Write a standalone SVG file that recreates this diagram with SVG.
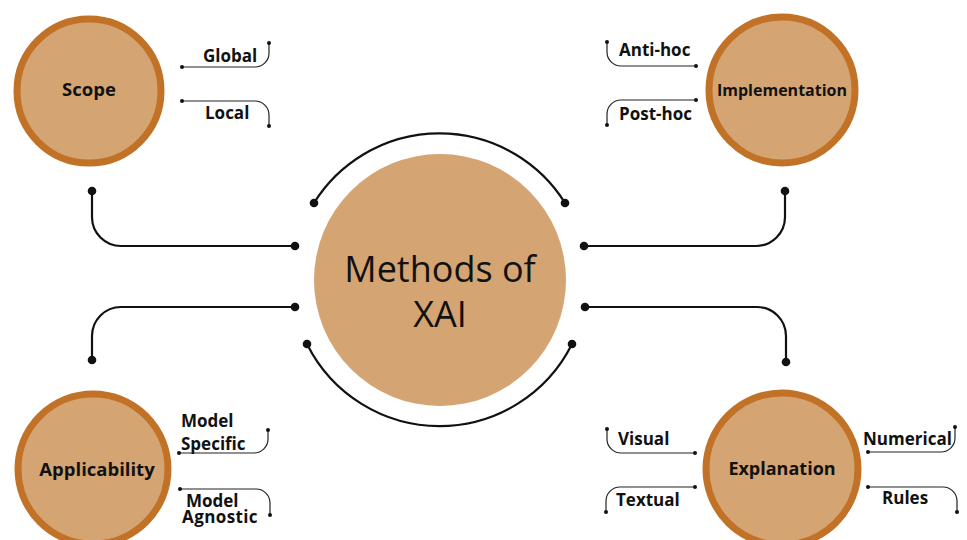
<svg xmlns="http://www.w3.org/2000/svg" width="967" height="540" viewBox="0 0 967 540">
  <style>
    .node { fill: #d4a572; stroke: #c27226; stroke-width: 7; }
    .core { fill: #d4a572; }
    .wire { fill: none; stroke: #111; stroke-width: 2.2; stroke-linecap: round; }
    .twig { fill: none; stroke: #222; stroke-width: 1.2; }
    .dot { fill: #111; }
    .sdot { fill: #111; }
    .title { font-family: "Open Sans", "Liberation Sans", sans-serif; font-weight: 700; fill: #111; text-anchor: middle; }
    .lbl { font-family: "Open Sans", "Liberation Sans", sans-serif; font-weight: 700; font-size: 17px; fill: #111; }
  </style>

  <!-- connectors -->
  <g id="connectors">
    <!-- arcs around the central circle -->
    <path class="wire" d="M314,203 A148,148 0 0 1 565,203"/>
    <path class="wire" d="M307,344 A148,148 0 0 0 572,344"/>
    <circle class="dot" cx="314" cy="203" r="4.3"/>
    <circle class="dot" cx="565" cy="203" r="4.3"/>
    <circle class="dot" cx="307" cy="344" r="4.3"/>
    <circle class="dot" cx="572" cy="344" r="4.3"/>

    <!-- elbows to the four outer nodes -->
    <path class="wire" d="M92,191 V217 A29,29 0 0 0 121,246 H295"/>
    <circle class="dot" cx="92" cy="191" r="4.3"/>
    <circle class="dot" cx="295" cy="246" r="4.3"/>

    <path class="wire" d="M785,191 V217 A29,29 0 0 1 756,246 H584"/>
    <circle class="dot" cx="785" cy="191" r="4.3"/>
    <circle class="dot" cx="584" cy="246" r="4.3"/>

    <path class="wire" d="M92,360 V336 A29,29 0 0 1 121,307 H295"/>
    <circle class="dot" cx="92" cy="360" r="4.3"/>
    <circle class="dot" cx="295" cy="307" r="4.3"/>

    <path class="wire" d="M786,362 V336 A29,29 0 0 0 757,307 H585"/>
    <circle class="dot" cx="786" cy="362" r="4.3"/>
    <circle class="dot" cx="585" cy="307" r="4.3"/>

    <!-- label leaders: Scope -->
    <path class="twig" d="M182,67 H255 A14,14 0 0 0 269,53 V43"/>
    <circle class="sdot" cx="182" cy="67" r="2"/>
    <circle class="sdot" cx="269" cy="43" r="2"/>
    <path class="twig" d="M182,101 H255 A14,14 0 0 1 269,115 V126"/>
    <circle class="sdot" cx="182" cy="101" r="2"/>
    <circle class="sdot" cx="269" cy="126" r="2"/>

    <!-- label leaders: Implementation -->
    <path class="twig" d="M607,42 V52 A14,14 0 0 0 621,66 H696"/>
    <circle class="sdot" cx="607" cy="42" r="2"/>
    <circle class="sdot" cx="696" cy="66" r="2"/>
    <path class="twig" d="M696,100 H621 A14,14 0 0 0 607,114 V125"/>
    <circle class="sdot" cx="696" cy="100" r="2"/>
    <circle class="sdot" cx="607" cy="125" r="2"/>

    <!-- label leaders: Applicability -->
    <path class="twig" d="M179,453 H254 A14,14 0 0 0 268,439 V430"/>
    <circle class="sdot" cx="179" cy="453" r="2"/>
    <circle class="sdot" cx="268" cy="430" r="2"/>
    <path class="twig" d="M180,489 H256 A14,14 0 0 1 270,503 V515"/>
    <circle class="sdot" cx="180" cy="489" r="2"/>
    <circle class="sdot" cx="270" cy="515" r="2"/>

    <!-- label leaders: Explanation -->
    <path class="twig" d="M607,429 V439 A14,14 0 0 0 621,453 H695"/>
    <circle class="sdot" cx="607" cy="429" r="2"/>
    <circle class="sdot" cx="695" cy="453" r="2"/>
    <path class="twig" d="M695,487 H620 A14,14 0 0 0 606,501 V512"/>
    <circle class="sdot" cx="695" cy="487" r="2"/>
    <circle class="sdot" cx="606" cy="512" r="2"/>
    <path class="twig" d="M868,452 H941 A14,14 0 0 0 955,438 V427"/>
    <circle class="sdot" cx="868" cy="452" r="2"/>
    <circle class="sdot" cx="955" cy="427" r="2"/>
    <path class="twig" d="M868,487 H943 A14,14 0 0 1 957,501 V512"/>
    <circle class="sdot" cx="868" cy="487" r="2"/>
    <circle class="sdot" cx="957" cy="512" r="2"/>
  </g>

  <!-- central node -->
  <g id="methods-of-xai">
    <circle class="core" cx="440" cy="280" r="126"/>
    <text x="440" y="282" font-family="'Open Sans', 'Liberation Sans', sans-serif" font-size="36" fill="#111" text-anchor="middle">Methods of</text>
    <text x="440" y="327" font-family="'Open Sans', 'Liberation Sans', sans-serif" font-size="36" fill="#111" text-anchor="middle">XAI</text>
  </g>

  <g id="scope">
    <circle class="node" cx="89" cy="91" r="72"/>
    <text class="title" x="89" y="96" font-size="18.5">Scope</text>
    <text class="lbl" x="203" y="62" font-size="16.5">Global</text>
    <text class="lbl" x="205" y="119">Local</text>
  </g>

  <g id="implementation">
    <circle class="node" cx="782" cy="90" r="73"/>
    <text class="title" x="782" y="96" font-size="16">Implementation</text>
    <text class="lbl" x="619" y="56">Anti-hoc</text>
    <text class="lbl" x="619" y="120">Post-hoc</text>
  </g>

  <g id="applicability">
    <circle class="node" cx="93" cy="469" r="75"/>
    <text class="title" x="97" y="476" font-size="18.5">Applicability</text>
    <text class="lbl" x="181" y="427">Model</text>
    <text class="lbl" x="181" y="450">Specific</text>
    <text class="lbl" x="186" y="507">Model</text>
    <text class="lbl" x="182" y="523" letter-spacing="0.4">Agnostic</text>
  </g>

  <g id="explanation">
    <circle class="node" cx="782" cy="469" r="76"/>
    <text class="title" x="782" y="475" font-size="18">Explanation</text>
    <text class="lbl" x="618" y="445" font-size="14">Visual</text>
    <text class="lbl" x="616" y="506">Textual</text>
    <text class="lbl" x="863" y="445">Numerical</text>
    <text class="lbl" x="882" y="504">Rules</text>
  </g>
</svg>
